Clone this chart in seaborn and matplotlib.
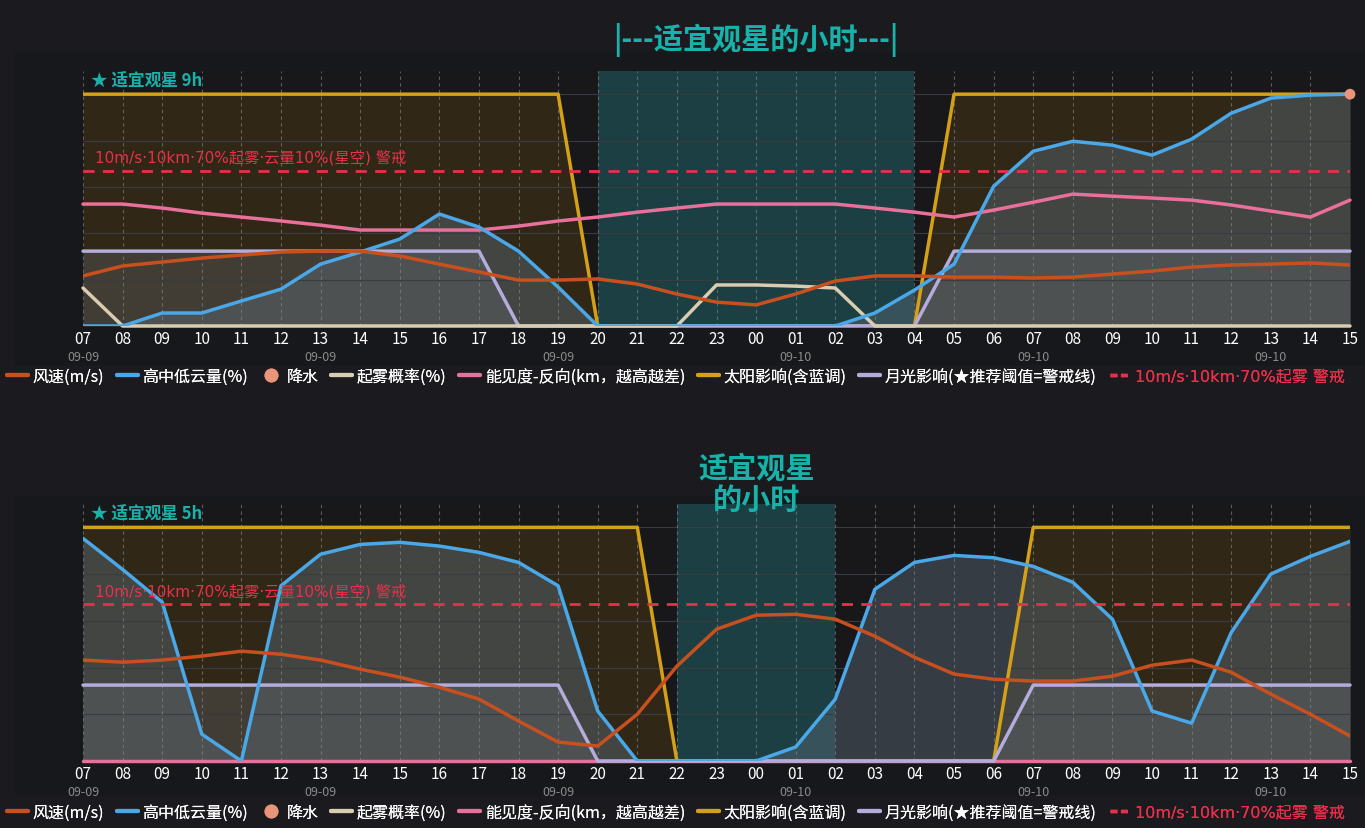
import numpy as np
import pandas as pd
import matplotlib
matplotlib.use("Agg")
import matplotlib.pyplot as plt
from matplotlib.lines import Line2D
from matplotlib.patches import Rectangle
import seaborn as sns

sns.set_theme(style="dark")
plt.rcParams["font.family"] = ["Noto Sans CJK SC", "DejaVu Sans"]

BG = "#1b1b1f"
C_WIND = "#c8501e"
C_CLOUD = "#4aa8e8"
C_RAIN = "#e8957a"
C_FOG = "#d8cdb0"
C_VIS = "#e8709a"
C_SUN = "#d4a017"
C_MOON = "#b4acdc"
C_WARN = "#e8304a"
C_TEAL = "#17b3ab"

hours = ["07", "08", "09", "10", "11", "12", "13", "14", "15", "16", "17", "18", "19", "20", "21", "22",
         "23", "00", "01", "02", "03", "04", "05", "06", "07", "08", "09", "10", "11", "12", "13", "14", "15"]
date_ticks = {0: "09-09", 6: "09-09", 12: "09-09", 18: "09-10", 24: "09-10", 30: "09-10"}
warn_level = 67

# ---- panel 1 ----
wind1 = [21.6, 25.9, 27.6, 29.3, 30.6, 31.9, 32.3, 32.3, 30.2, 26.7, 23.3, 19.8, 19.8, 20.3, 18.1, 13.8,
         10.3, 9.1, 13.8, 19.4, 21.6, 21.6, 21.1, 21.1, 20.7, 21.1, 22.4, 23.7, 25.4, 26.3, 26.7, 27.2, 26.3]
cloud1 = [0, 0, 5.6, 5.6, 10.8, 15.9, 26.7, 31.9, 37.5, 48.3, 42.7, 32.3, 16.8, 0, 0, 0,
          0, 0, 0, 0, 5.6, 15.5, 26.7, 60.3, 75.4, 79.7, 78.0, 73.7, 80.6, 91.8, 98.3, 99.6, 100]
fog1 = [16.4, 0, 0, 0, 0, 0, 0, 0, 0, 0, 0, 0, 0, 0, 0, 0,
        17.7, 17.7, 17.2, 16.4, 0, 0, 0, 0, 0, 0, 0, 0, 0, 0, 0, 0, 0]
vis1 = [52.6, 52.6, 50.9, 48.7, 47.0, 45.3, 43.5, 41.4, 41.4, 41.4, 41.4, 43.1, 45.3, 47.0, 49.1, 50.9,
        52.6, 52.6, 52.6, 52.6, 50.9, 49.1, 47.0, 50.0, 53.4, 56.9, 56.0, 55.2, 54.3, 52.2, 49.6, 47.0, 54.3]
sun1 = [100] * 13 + [0] * 9 + [100] * 11
moon1 = [32.3] * 11 + [0] * 11 + [32.3] * 11
rain1 = [np.nan] * 32 + [100]
band1 = (13, 21)

# ---- panel 2 ----
wind2 = [43.2, 42.3, 43.2, 44.9, 47.0, 45.7, 43.2, 39.3, 35.9, 31.6, 26.5, 17.1, 8.1, 6.4, 20.0, 40.6,
         56.4, 62.4, 62.8, 60.7, 53.4, 44.4, 37.2, 35.0, 34.2, 34.2, 36.3, 41.0, 43.2, 38.0, 28.6, 20.0, 10.7]
cloud2 = [95.3, 82.0, 68.0, 11.5, 0, 75.0, 88.5, 92.7, 93.6, 92.0, 89.3, 85.0, 75.0, 21.4, 0, 0,
          0, 0, 6.0, 26.5, 73.5, 85.0, 88.0, 87.0, 83.3, 76.5, 60.7, 21.4, 16.2, 55.0, 80.0, 87.6, 94.0]
fog2 = [np.nan] * 33
vis2 = [0] * 33
sun2 = [100] * 15 + [0] * 9 + [100] * 9
moon2 = [32.5] * 13 + [0] * 11 + [32.5] * 9
rain2 = [np.nan] * 33
band2 = (15, 19)

fig = plt.figure(figsize=(13.65, 8.29), dpi=100, facecolor=BG)
fig.patches.append(Rectangle((15 / 1365, 1 - 365 / 829), 1350 / 1365, 312 / 829,
                             transform=fig.transFigure, color="#17181b", zorder=-5))
fig.patches.append(Rectangle((15 / 1365, 1 - 795 / 829), 1350 / 1365, 298 / 829,
                             transform=fig.transFigure, color="#17181b", zorder=-5))

ax1 = fig.add_axes([83 / 1365, 1 - 327 / 829, 1267 / 1365, 255 / 829])
ax2 = fig.add_axes([83 / 1365, 1 - 762 / 829, 1267 / 1365, 257 / 829])


def draw_panel(ax, wind, cloud, fog, vis, sun, moon, rain, band, hrs):
    x = np.arange(len(hours))
    df = pd.DataFrame({"x": x, "wind": wind, "cloud": cloud, "fog": fog, "vis": vis,
                       "sun": sun, "moon": moon, "rain": rain})
    ax.set_zorder(2)
    ax.set_facecolor("#18181b")
    ax.axvspan(band[0], band[1], color="#1d4a4c", alpha=0.8, lw=0, zorder=0)
    ax.fill_between(x, 0, df["sun"], color="#5e4510", alpha=0.35, lw=0, zorder=1)
    ax.fill_between(x, 0, df["cloud"], color="#5a6a78", alpha=0.45, lw=0, zorder=1)
    ax.fill_between(x, 0, df["moon"], color="#6a7078", alpha=0.3, lw=0, zorder=1)
    for yy in [20, 40, 60, 80, 100]:
        ax.axhline(yy, color="#3a3b40", lw=0.8, zorder=1)
    for xx in x:
        ax.axvline(xx, color="#8a8a8a", lw=0.8, ls=(0, (3, 3)), alpha=0.6, zorder=1)
    sns.lineplot(data=df, x="x", y="sun", ax=ax, color=C_SUN, lw=2.5, zorder=3)
    sns.lineplot(data=df, x="x", y="vis", ax=ax, color=C_VIS, lw=2.5, zorder=4, clip_on=False)
    sns.lineplot(data=df, x="x", y="moon", ax=ax, color=C_MOON, lw=2.5, zorder=4, clip_on=False)
    if df["fog"].notna().any():
        sns.lineplot(data=df, x="x", y="fog", ax=ax, color=C_FOG, lw=2.5, zorder=4, clip_on=False)
    sns.lineplot(data=df, x="x", y="cloud", ax=ax, color=C_CLOUD, lw=2.5, zorder=5)
    sns.lineplot(data=df, x="x", y="wind", ax=ax, color=C_WIND, lw=2.5, zorder=5)
    if df["rain"].notna().any():
        sns.scatterplot(data=df, x="x", y="rain", ax=ax, color=C_RAIN, s=60, zorder=6,
                        edgecolor="none", clip_on=False)
    ax.axhline(warn_level, color=C_WARN, lw=2, ls=(0, (4, 3)), zorder=6)
    ax.text(0.3, warn_level + 2.5, "10m/s·10km·70%起雾·云量10%(星空) 警戒", color=C_WARN,
            fontsize=11, va="bottom", zorder=7, family=["DejaVu Sans", "Noto Sans CJK SC"])
    ax.text(0.2, 106, f"★ 适宜观星 {hrs}h", color=C_TEAL, fontsize=12, fontweight="bold",
            va="center", zorder=7)
    ax.set_xlim(0, len(hours) - 1)
    ax.set_ylim(0, 110)
    ax.set_xticks(x)
    ax.set_xticklabels(hours, color="white", fontsize=11)
    ax.tick_params(axis="x", length=0, pad=3)
    ax.set_yticks([])
    ax.set_xlabel("")
    ax.set_ylabel("")
    for s in ax.spines.values():
        s.set_visible(False)
    for i, d in date_ticks.items():
        ax.annotate(d, (i, 0), xytext=(0, -22), textcoords="offset points", ha="center",
                    va="center", color="#8a8a8a", fontsize=9, annotation_clip=False)


draw_panel(ax1, wind1, cloud1, fog1, vis1, sun1, moon1, rain1, band1, 9)
draw_panel(ax2, wind2, cloud2, fog2, vis2, sun2, moon2, rain2, band2, 5)

fig.text(756 / 1365, 1 - 40 / 829, "|---适宜观星的小时---|", color=C_TEAL, fontsize=21,
         fontweight="heavy", ha="center", va="center")
fig.text(757 / 1365, 1 - 484 / 829, "适宜观星\n的小时", color=C_TEAL, fontsize=21,
         fontweight="heavy", ha="center", va="center", linespacing=1.05)

handles = [
    Line2D([], [], color=C_WIND, lw=3, label="风速(m/s)"),
    Line2D([], [], color=C_CLOUD, lw=3, label="高中低云量(%)"),
    Line2D([], [], color=C_RAIN, marker="o", ls="none", markersize=9, label="降水"),
    Line2D([], [], color=C_FOG, lw=3, label="起雾概率(%)"),
    Line2D([], [], color=C_VIS, lw=3, label="能见度-反向(km，越高越差)"),
    Line2D([], [], color=C_SUN, lw=3, label="太阳影响(含蓝调)"),
    Line2D([], [], color=C_MOON, lw=3, label="月光影响(★推荐阈值=警戒线)"),
    Line2D([], [], color=C_WARN, lw=2.5, ls=(0, (2, 1)), label="10m/s·10km·70%起雾 警戒"),
]
for ypix in (377, 813):
    leg = fig.legend(handles=handles, loc="center", bbox_to_anchor=(676 / 1365, 1 - ypix / 829),
                     ncol=8, frameon=False, fontsize=11.5, handlelength=1.3, handletextpad=0.3,
                     columnspacing=0.8)
    for t in leg.get_texts():
        t.set_color("white")
    leg.get_texts()[-1].set_color(C_WARN)
    leg.get_texts()[-1].set_fontfamily(["DejaVu Sans", "Noto Sans CJK SC"])
    fig.add_artist(leg)

fig.savefig("out.png", dpi=100, facecolor=BG)
